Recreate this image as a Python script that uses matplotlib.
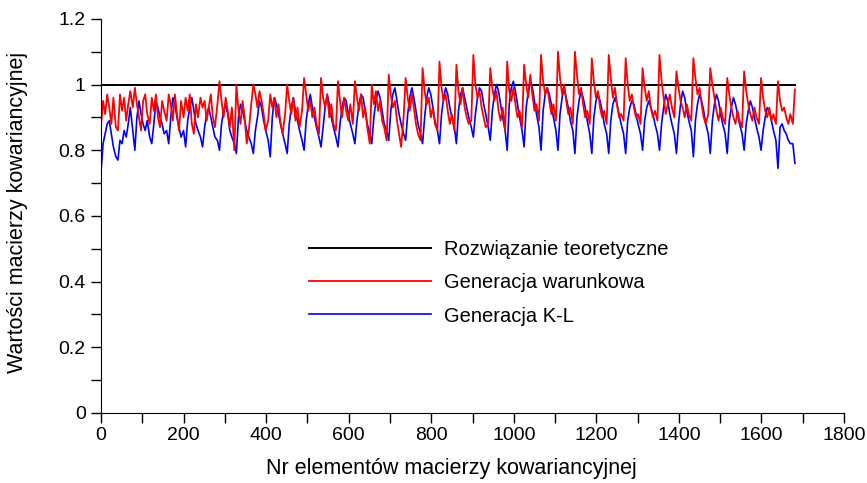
import numpy as np
import matplotlib.pyplot as plt
from matplotlib.ticker import MultipleLocator

plt.rcParams['font.family'] = ['Liberation Sans', 'DejaVu Sans']

# 1. Dane (41 okresow po 41 elementow, 8 probek na okres)
offsets = [5, 10, 15, 20, 25, 30, 36, 41]

red_start = 0.89
red_rows = [
    [0.95, 0.91, 0.97, 0.93, 0.88, 0.96, 0.87, 0.86],
    [0.97, 0.92, 0.96, 0.89, 0.94, 0.98, 0.93, 0.99],
    [0.94, 0.90, 0.86, 0.95, 0.97, 0.91, 0.88, 0.96],
    [0.92, 0.97, 0.90, 0.87, 0.95, 0.92, 0.89, 0.97],
    [0.94, 0.89, 0.97, 0.91, 0.86, 0.95, 0.90, 0.96],
    [0.92, 0.97, 0.88, 0.85, 0.94, 0.90, 0.96, 0.93],
    [0.95, 0.89, 0.93, 0.97, 0.90, 0.87, 0.94, 1.01],
    [0.95, 0.90, 0.96, 0.92, 0.87, 0.93, 0.80, 1.00],
    [0.92, 0.88, 0.95, 0.90, 0.82, 0.86, 0.94, 1.00],
    [0.97, 0.93, 0.98, 0.95, 0.91, 0.86, 0.89, 0.97],
    [0.93, 0.96, 0.90, 0.94, 0.88, 0.85, 0.91, 1.00],
    [0.95, 0.91, 0.96, 0.89, 0.93, 0.87, 0.92, 1.02],
    [0.97, 0.92, 0.95, 0.90, 0.93, 0.88, 0.85, 1.02],
    [0.96, 0.93, 0.97, 0.90, 0.94, 0.88, 0.86, 1.01],
    [0.95, 0.90, 0.96, 0.92, 0.89, 0.94, 0.88, 1.01],
    [0.96, 0.92, 0.97, 0.90, 0.93, 0.87, 0.82, 1.00],
    [0.94, 0.98, 0.92, 0.95, 0.89, 0.87, 0.83, 1.03],
    [0.97, 0.93, 0.95, 0.89, 0.85, 0.81, 0.90, 1.02],
    [0.96, 0.92, 0.97, 0.93, 0.88, 0.85, 0.83, 1.05],
    [0.98, 0.94, 0.96, 0.90, 0.93, 0.88, 0.86, 1.07],
    [0.99, 0.95, 0.97, 0.92, 0.88, 0.91, 0.86, 1.06],
    [0.98, 0.94, 0.99, 0.93, 0.90, 0.88, 0.89, 1.09],
    [1.00, 0.96, 0.98, 0.93, 0.90, 0.87, 0.88, 1.05],
    [0.99, 0.95, 0.98, 0.92, 0.89, 0.93, 0.86, 1.07],
    [0.98, 0.95, 0.99, 0.94, 0.90, 0.92, 0.87, 1.06],
    [1.00, 0.96, 1.03, 0.97, 0.92, 0.94, 0.89, 1.09],
    [1.01, 0.97, 0.99, 0.95, 0.91, 0.94, 0.89, 1.10],
    [1.02, 0.97, 1.00, 0.95, 0.91, 0.93, 0.88, 1.10],
    [1.03, 0.97, 0.99, 0.94, 0.90, 0.92, 0.88, 1.08],
    [1.01, 0.96, 0.98, 0.93, 0.90, 0.92, 0.88, 1.09],
    [1.02, 0.96, 0.99, 0.94, 0.90, 0.91, 0.89, 1.08],
    [1.00, 0.95, 0.97, 0.93, 0.90, 0.91, 0.88, 1.05],
    [0.99, 0.95, 0.98, 0.93, 0.90, 0.92, 0.89, 1.09],
    [1.01, 0.96, 0.91, 0.94, 0.97, 0.93, 0.90, 1.04],
    [0.99, 0.95, 0.93, 0.90, 0.94, 0.91, 0.89, 1.08],
    [1.02, 0.97, 0.99, 0.94, 0.90, 0.88, 0.91, 1.05],
    [1.00, 0.96, 0.92, 0.89, 0.93, 0.90, 0.88, 1.02],
    [0.97, 0.93, 0.90, 0.88, 0.92, 0.89, 0.87, 1.04],
    [0.98, 0.94, 0.91, 0.89, 0.93, 0.90, 0.88, 1.02],
    [0.96, 0.92, 0.90, 0.93, 0.89, 0.91, 0.88, 1.01],
    [0.95, 0.92, 0.93, 0.90, 0.88, 0.91, 0.88, 0.985],
]

blue_start = 0.75
blue_rows = [
    [0.82, 0.85, 0.88, 0.89, 0.85, 0.81, 0.78, 0.77],
    [0.83, 0.82, 0.86, 0.84, 0.88, 0.93, 0.86, 0.80],
    [0.90, 0.95, 0.91, 0.88, 0.86, 0.89, 0.84, 0.82],
    [0.88, 0.95, 0.93, 0.90, 0.88, 0.85, 0.86, 0.82],
    [0.90, 0.96, 0.94, 0.90, 0.87, 0.84, 0.86, 0.81],
    [0.89, 0.93, 0.96, 0.92, 0.88, 0.86, 0.84, 0.81],
    [0.87, 0.91, 0.93, 0.90, 0.87, 0.84, 0.83, 0.80],
    [0.88, 0.92, 0.94, 0.91, 0.86, 0.84, 0.82, 0.79],
    [0.90, 0.94, 0.92, 0.89, 0.86, 0.84, 0.82, 0.79],
    [0.86, 0.90, 0.95, 0.93, 0.89, 0.86, 0.83, 0.78],
    [0.90, 0.96, 0.94, 0.91, 0.88, 0.85, 0.82, 0.79],
    [0.88, 0.93, 0.96, 0.92, 0.89, 0.86, 0.83, 0.80],
    [0.89, 0.94, 0.97, 0.93, 0.90, 0.87, 0.84, 0.81],
    [0.87, 0.93, 0.97, 0.94, 0.90, 0.87, 0.84, 0.81],
    [0.88, 0.93, 0.96, 0.95, 0.91, 0.88, 0.85, 0.82],
    [0.89, 0.94, 0.97, 0.96, 0.92, 0.88, 0.85, 0.82],
    [0.90, 0.95, 0.98, 0.96, 0.92, 0.88, 0.86, 0.83],
    [0.92, 0.97, 0.99, 0.95, 0.91, 0.88, 0.85, 0.83],
    [0.91, 0.96, 0.99, 0.96, 0.92, 0.88, 0.85, 0.82],
    [0.90, 0.96, 0.99, 0.97, 0.93, 0.89, 0.86, 0.82],
    [0.91, 0.96, 0.99, 0.97, 0.93, 0.90, 0.87, 0.82],
    [0.92, 0.97, 0.99, 0.96, 0.93, 0.90, 0.87, 0.84],
    [0.91, 0.96, 0.99, 0.98, 0.94, 0.91, 0.87, 0.83],
    [0.92, 0.97, 1.00, 0.98, 0.94, 0.90, 0.86, 0.80],
    [0.94, 0.99, 1.01, 0.98, 0.94, 0.90, 0.86, 0.81],
    [0.93, 0.98, 1.01, 0.99, 0.95, 0.91, 0.87, 0.80],
    [0.92, 0.97, 0.99, 0.97, 0.94, 0.90, 0.86, 0.80],
    [0.91, 0.96, 0.99, 0.96, 0.93, 0.89, 0.86, 0.79],
    [0.90, 0.95, 0.98, 0.96, 0.93, 0.89, 0.85, 0.79],
    [0.90, 0.95, 0.97, 0.95, 0.92, 0.88, 0.85, 0.79],
    [0.89, 0.94, 0.96, 0.94, 0.91, 0.88, 0.85, 0.79],
    [0.89, 0.93, 0.95, 0.94, 0.91, 0.88, 0.85, 0.80],
    [0.89, 0.93, 0.95, 0.93, 0.91, 0.88, 0.85, 0.80],
    [0.88, 0.93, 0.97, 0.95, 0.91, 0.88, 0.85, 0.79],
    [0.88, 0.94, 0.98, 0.96, 0.92, 0.89, 0.86, 0.78],
    [0.89, 0.94, 0.97, 0.95, 0.92, 0.88, 0.85, 0.79],
    [0.89, 0.94, 0.97, 0.95, 0.91, 0.88, 0.85, 0.79],
    [0.89, 0.93, 0.96, 0.94, 0.91, 0.88, 0.85, 0.80],
    [0.88, 0.92, 0.95, 0.93, 0.90, 0.87, 0.84, 0.80],
    [0.86, 0.90, 0.93, 0.92, 0.89, 0.86, 0.83, 0.745],
    [0.87, 0.88, 0.86, 0.85, 0.83, 0.82, 0.82, 0.76],
]

theory_x = [1, 1681]
theory_y = [1.0, 1.0]

# 2. Os x: numer elementu
n_periods = len(red_rows)
x = [1] + [41 * k + o for k in range(n_periods) for o in offsets]
red = [red_start] + [v for row in red_rows for v in row]
blue = [blue_start] + [v for row in blue_rows for v in row]

# 3. Wykres
fig = plt.figure(figsize=(8.67, 4.83), dpi=100)
ax = fig.add_axes([0.1165, 0.145, 0.857, 0.816])

l_teo, = ax.plot(theory_x, theory_y, color="black", linewidth=1.4)
l_kl, = ax.plot(x, blue, color="#0000ff", linewidth=1.2)
l_war, = ax.plot(x, red, color="#ff0000", linewidth=1.3)

ax.set_xlim(0, 1800)
ax.set_ylim(0, 1.2)
ax.xaxis.set_major_locator(MultipleLocator(200))
ax.xaxis.set_minor_locator(MultipleLocator(100))
ax.yaxis.set_major_locator(MultipleLocator(0.2))
ax.yaxis.set_minor_locator(MultipleLocator(0.1))
ax.set_yticks([0, 0.2, 0.4, 0.6, 0.8, 1.0, 1.2])
ax.set_yticklabels(["0", "0.2", "0.4", "0.6", "0.8", "1", "1.2"])

for s in ["top", "right"]:
    ax.spines[s].set_visible(False)
ax.tick_params(which="both", direction="out", length=7, width=1, labelsize=14)
ax.tick_params(axis="x", pad=3)
ax.tick_params(axis="y", pad=4)

ax.set_xlabel("Nr elementów macierzy kowariancyjnej", fontsize=15.5)
ax.set_ylabel("Wartości macierzy kowariancyjnej", fontsize=15.5)
ax.xaxis.set_label_coords(0.471, -0.113)
ax.yaxis.set_label_coords(-0.098, 0.51)

ax.legend(
    [l_teo, l_war, l_kl],
    ["Rozwiązanie teoretyczne", "Generacja warunkowa", "Generacja K-L"],
    loc="upper left",
    bbox_to_anchor=(0.255, 0.485),
    frameon=False,
    fontsize=14.5,
    handlelength=6.1,
    handletextpad=0.6,
    labelspacing=0.71,
)

# 4. Zapis
fig.savefig("out.png", dpi=100)
